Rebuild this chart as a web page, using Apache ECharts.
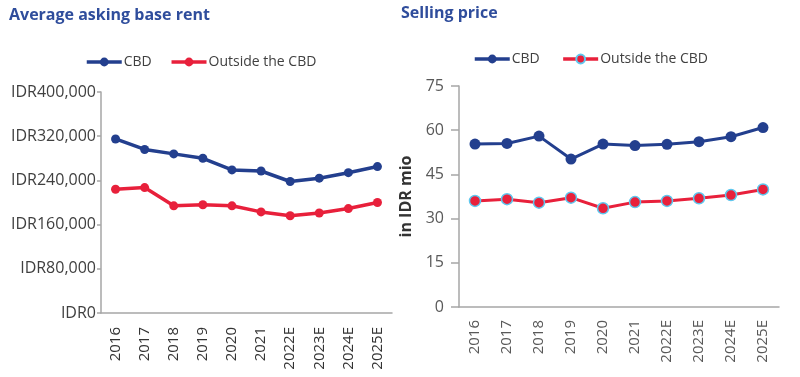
<!DOCTYPE html>
<html>
<head>
<meta charset="utf-8">
<script src="https://cdn.jsdelivr.net/npm/echarts@6/dist/echarts.min.js"></script>
<style>
  html, body { margin: 0; padding: 0; background: #fff; }
  #chart { width: 800px; height: 377px; }
</style>
</head>
<body>
<div id="chart"></div>
<script>
const years = ['2016', '2017', '2018', '2019', '2020', '2021', '2022E', '2023E', '2024E', '2025E'];

// average asking base rent (IDR)
const rentCbd = [315000, 296000, 288000, 280000, 259000, 257000, 238000, 244000, 254000, 265000];
const rentOutside = [224000, 227000, 194000, 196000, 194000, 183000, 176000, 181000, 189000, 200000];

// selling price (IDR mio)
const priceCbd = [55.3, 55.5, 58.0, 50.2, 55.3, 54.8, 55.2, 56.1, 57.8, 60.9];
const priceOutside = [36.0, 36.6, 35.4, 37.1, 33.5, 35.6, 36.0, 36.9, 38.0, 39.9];

const navy = '#233f8e';
const red = '#e8203b';
const font = 'Open Sans';

const chart = echarts.init(document.getElementById('chart'));

const axisLine = { show: true, lineStyle: { color: '#a6a6a6', width: 1.5 } };
const legendBase = {
  padding: 0,
  itemWidth: 35, itemHeight: 11, itemGap: 18,
  lineStyle: { width: 3.5 },
  textStyle: { color: '#404040', fontSize: 14, padding: [0, 0, 0, -3] }
};

chart.setOption({
  animation: false,
  textStyle: { fontFamily: font },
  title: [
    {
      text: 'Average asking base rent',
      left: 4, top: 2,
      textStyle: { color: '#2f4d9c', fontSize: 16, fontWeight: 'bold', fontFamily: font }
    },
    {
      text: 'Selling price',
      left: 396, top: 0,
      textStyle: { color: '#2f4d9c', fontSize: 16, fontWeight: 'bold', fontFamily: font }
    }
  ],
  legend: [
    Object.assign({}, legendBase, {
      left: 85, top: 55,
      data: [{ name: 'CBD' }, { name: 'Outside the CBD' }]
    }),
    Object.assign({}, legendBase, {
      left: 473, top: 52,
      data: [{ name: 'CBD ' }, { name: 'Outside the CBD ' }]
    })
  ],
  grid: [
    { left: 101, right: 408, top: 92, bottom: 64 },
    { left: 459, right: 21, top: 86, bottom: 70 }
  ],
  xAxis: [
    {
      gridIndex: 0, type: 'category', data: years,
      axisLine: axisLine, axisTick: { show: false },
      axisLabel: { rotate: 90, margin: 14, color: '#333', fontSize: 15 }
    },
    {
      gridIndex: 1, type: 'category', data: years,
      axisLine: axisLine, axisTick: { show: false },
      axisLabel: { rotate: 90, margin: 13, color: '#595959', fontSize: 15 }
    }
  ],
  yAxis: [
    {
      gridIndex: 0, type: 'value', min: 0, max: 400000, interval: 80000,
      axisLine: axisLine,
      axisTick: { show: true, length: 4, lineStyle: { color: '#a6a6a6', width: 1.5 } },
      splitLine: { show: false },
      axisLabel: {
        margin: 5, color: '#404040', fontSize: 16,
        formatter: v => 'IDR' + v.toLocaleString('en-US')
      }
    },
    {
      gridIndex: 1, type: 'value', min: 0, max: 75, interval: 15,
      axisLine: axisLine,
      axisTick: { show: true, length: 8, lineStyle: { color: '#a6a6a6', width: 1.5 } },
      splitLine: { show: false },
      axisLabel: { margin: 15, color: '#595959', fontSize: 16 },
      name: 'in IDR mio',
      nameLocation: 'middle',
      nameGap: 45,
      nameTextStyle: { color: '#333', fontSize: 16, fontWeight: 'bold' }
    }
  ],
  series: [
    {
      name: 'CBD', type: 'line', xAxisIndex: 0, yAxisIndex: 0, data: rentCbd,
      symbol: 'circle', symbolSize: 9,
      lineStyle: { color: navy, width: 3.5 }, itemStyle: { color: navy }
    },
    {
      name: 'Outside the CBD', type: 'line', xAxisIndex: 0, yAxisIndex: 0, data: rentOutside,
      symbol: 'circle', symbolSize: 9,
      lineStyle: { color: red, width: 3.5 }, itemStyle: { color: red }
    },
    {
      name: 'CBD ', type: 'line', xAxisIndex: 1, yAxisIndex: 1, data: priceCbd,
      symbol: 'circle', symbolSize: 11,
      lineStyle: { color: navy, width: 3 }, itemStyle: { color: navy }
    },
    {
      name: 'Outside the CBD ', type: 'line', xAxisIndex: 1, yAxisIndex: 1, data: priceOutside,
      symbol: 'circle', symbolSize: 11,
      lineStyle: { color: red, width: 3 },
      itemStyle: { color: red, borderColor: '#5ec8ef', borderWidth: 1.5 }
    }
  ]
});
</script>
</body>
</html>
